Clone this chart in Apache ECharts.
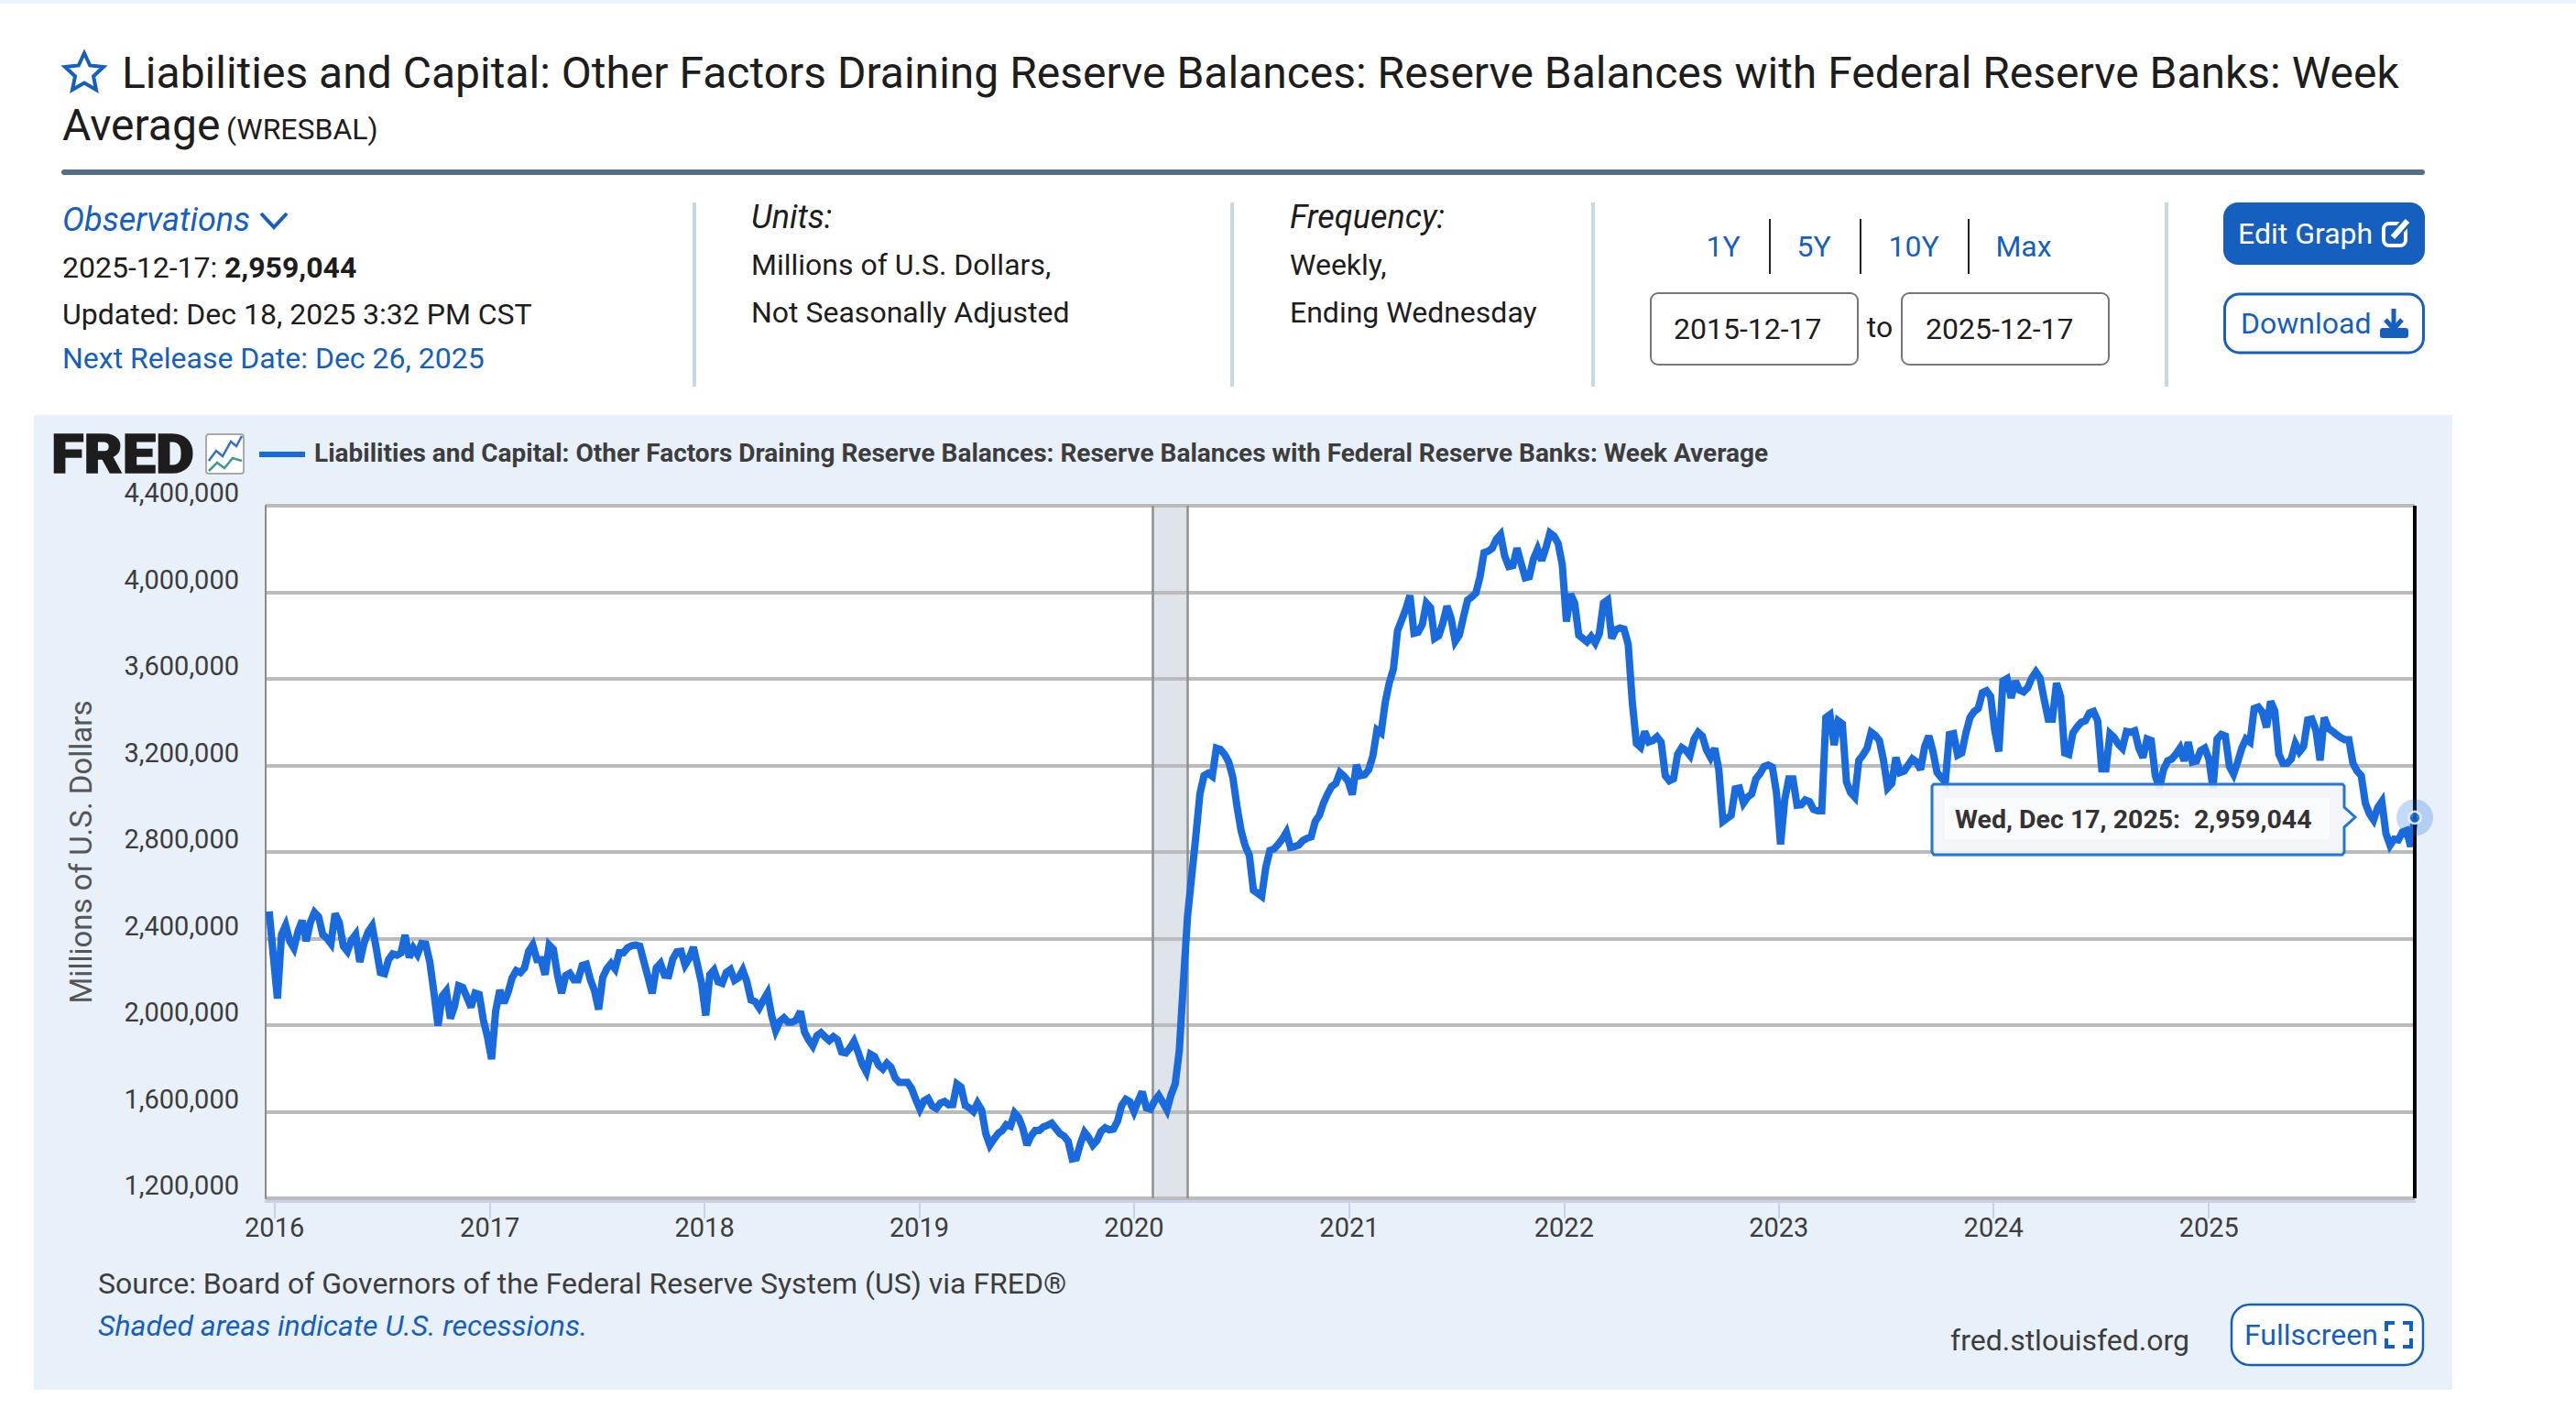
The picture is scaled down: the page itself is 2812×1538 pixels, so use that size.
<!DOCTYPE html>
<html><head><meta charset="utf-8">
<style>html,body{margin:0;padding:0;background:#fff}#c{width:2812px;height:1538px}</style>
<script src="https://cdn.jsdelivr.net/npm/echarts@6/dist/echarts.min.js"></script>
</head><body><div id="c"></div>
<script>
// Weekly reserve balances, thousands of millions of dollars
const weeks2016=[2525,2320,2123,2419,2461,2388,2356,2433,2483,2388,2475,2521,2501,2419,2402,2377,2515,2475,2365,2341,2394,2419,2292,2377,2430,2458,2355,2243,2238,2303,2329,2323,2334,2416,2313,2356,2327,2377,2374,2292,2151,1998,2134,2158,2031,2087,2182,2174,2130,2083,2148,2142,2024,1946];
const weeks2017=[1843,2066,2162,2102,2151,2219,2252,2243,2264,2341,2370,2303,2303,2233,2370,2351,2233,2148,2229,2240,2210,2210,2275,2281,2210,2158,2073,2221,2261,2285,2260,2334,2334,2357,2367,2370,2365,2292,2221,2147,2264,2285,2231,2229,2306,2339,2341,2278,2309,2360,2278,2193];
const weeks2018=[2045,2233,2254,2200,2193,2243,2257,2207,2219,2254,2200,2116,2109,2080,2116,2148,2045,1975,2017,2034,2014,2014,2024,2063,1968,1932,1904,1951,1965,1946,1929,1946,1932,1876,1872,1894,1925,1876,1819,1784,1866,1855,1815,1798,1824,1805,1756,1735,1735,1735,1707,1657];
const weeks2019=[1612,1650,1661,1626,1615,1640,1647,1632,1633,1728,1714,1629,1618,1601,1640,1608,1499,1446,1474,1499,1513,1540,1533,1594,1573,1523,1446,1488,1513,1513,1530,1537,1547,1523,1499,1488,1463,1382,1386,1453,1505,1481,1446,1467,1509,1526,1516,1520,1556,1629,1657,1646];
const weeks2020=[1601,1650,1692,1618,1612,1650,1675,1643,1608,1678,1728,1883,2200,2503,2687,2870,3068,3153,3164,3150,3280,3273,3251,3216,3145,3011,2899,2828,2786,2623,2609,2595,2729,2807,2814,2835,2859,2891,2821,2825,2832,2853,2863,2870,2941,2969,3026,3068,3103,3117,3167,3150];
const weeks2021=[3127,3065,3202,3153,3157,3181,3244,3364,3350,3491,3583,3646,3823,3872,3922,3985,3811,3816,3851,3950,3929,3787,3799,3858,3936,3879,3773,3802,3886,3964,3978,3996,4070,4183,4190,4204,4246,4267,4168,4119,4123,4204,4133,4067,4072,4154,4199,4147,4204,4274,4260,4225];
const weeks2022=[4126,3865,3992,3950,3802,3787,3771,3795,3766,3809,3950,3964,3787,3827,3835,3830,3759,3491,3301,3284,3357,3308,3315,3332,3308,3153,3129,3138,3251,3282,3270,3246,3322,3353,3336,3272,3237,3279,3181,2941,2955,2969,3092,3096,3026,3054,3068,3138,3162,3195,3202,3192];
const weeks2023=[3075,2835,3040,3138,3138,3016,3018,3040,3033,2997,2990,2990,3421,3435,3294,3406,3392,3124,3075,3054,3223,3248,3279,3353,3339,3315,3223,3096,3117,3237,3167,3174,3202,3230,3216,3181,3287,3336,3265,3167,3145,3124,3343,3347,3248,3258,3350,3421,3449,3463,3536,3545];
const weeks2024=[3519,3364,3265,3590,3601,3512,3590,3548,3540,3559,3604,3632,3604,3505,3414,3414,3580,3519,3258,3251,3350,3378,3399,3406,3442,3449,3406,3184,3184,3347,3329,3298,3279,3357,3353,3360,3280,3237,3322,3315,3153,3096,3181,3221,3230,3252,3280,3221,3308,3216,3221,3269];
const weeks2025=[3280,3230,3096,3322,3343,3336,3195,3160,3216,3280,3322,3308,3463,3470,3446,3376,3496,3452,3252,3209,3209,3230,3301,3263,3287,3410,3414,3364,3223,3421,3372,3358,3343,3329,3319,3319,3209,3174,3153,3026,2976,2948,3005,3033,2885,2831,2859,2856,2892,2899,2825,2959.044];
const yearTicks=[2016,2017,2018,2019,2020,2021,2022,2023,2024,2025];
const yMin=1200000, yMax=4400000, yStep=400000;
const rangeStart='2015-12-17', rangeEnd='2025-12-17';
const recession=['2020-02-01','2020-04-01'];
const TITLE='Liabilities and Capital: Other Factors Draining Reserve Balances: Reserve Balances with Federal Reserve Banks: Week';
const SERIES_NAME='Liabilities and Capital: Other Factors Draining Reserve Balances: Reserve Balances with Federal Reserve Banks: Week Average';

const weekly=[].concat(weeks2016,weeks2017,weeks2018,weeks2019,weeks2020,weeks2021,weeks2022,weeks2023,weeks2024,weeks2025);
const startMs=Date.parse(rangeStart), endMs=Date.parse(rangeEnd), WEEK=7*864e5;
const lineData=weekly.map((v,i)=>[endMs-(weekly.length-1-i)*WEEK, Math.round(v*1000)]);
const lastPoint=lineData[lineData.length-1];
const yearMs=yearTicks.map(y=>Date.UTC(y,0,1));
const recMs=recession.map(d=>Date.parse(d));

const BLUE='#155fbe', LINE='#196adc', FONT='Roboto';
function t(x,y,text,o){o=o||{};return {type:'text',z:o.z||10,silent:true,style:{x:x,y:y,text:text,
  font:(o.italic?'italic ':'')+(o.weight||'400')+' '+(o.size||32)+'px '+FONT,fill:o.fill||'#1d1d1d',
  align:o.align||'left',verticalAlign:'middle'}};}
function box(x,y,w,h,o){o=o||{};return {type:'rect',z:o.z||5,silent:true,shape:{x:x,y:y,width:w,height:h,r:o.r||0},
  style:{fill:o.fill||'none',stroke:o.stroke||null,lineWidth:o.lw||0}};}
function pl(points,stroke,lw,z){return {type:'polyline',z:z||10,silent:true,shape:{points:points},style:{stroke:stroke,lineWidth:lw,fill:'none'}};}
function ln(x1,y1,x2,y2,stroke,lw,z){return {type:'line',z:z||6,silent:true,shape:{x1,y1,x2,y2},style:{stroke,lineWidth:lw}};}

const g=[
  box(0,0,2812,4,{fill:'#e8f2fa',z:1}),
  box(37,453,2640,1064,{fill:'#e8f0fa',z:-5}),
  // header
  {type:'polygon',z:10,silent:true,shape:{points:[[92,58],[98.2,71.5],[113,73],[102,83.2],[105,98],[92,90.5],[79,98],[82,83.2],[71,73],[85.8,71.5]]},style:{fill:'none',stroke:BLUE,lineWidth:4}},
  t(133,79,TITLE,{size:48}),
  t(68,136,'Average',{size:48}),
  t(247,141,'(WRESBAL)',{size:32}),
  box(67,185,2580,6,{fill:'#527089',r:3}),
  // observations
  t(68,240,'Observations',{size:36,italic:true,fill:BLUE}),
  pl([[285,233],[299,248],[313,233]],BLUE,4),
  t(68,292,'2025-12-17: ',{size:32}),
  t(245,292,'2,959,044',{size:32,weight:'700'}),
  t(68,343,'Updated: Dec 18, 2025 3:32 PM CST',{size:32}),
  t(68,391,'Next Release Date: Dec 26, 2025',{size:32,fill:BLUE}),
  ln(758,221,758,422,'#c5d9e3',4),ln(1345,221,1345,422,'#c5d9e3',4),ln(1739,221,1739,422,'#c5d9e3',4),ln(2365,221,2365,422,'#c5d9e3',4),
  t(820,237,'Units:',{size:36,italic:true}),
  t(820,289,'Millions of U.S. Dollars,',{size:32}),
  t(820,341,'Not Seasonally Adjusted',{size:32}),
  t(1408,237,'Frequency:',{size:36,italic:true}),
  t(1408,289,'Weekly,',{size:32}),
  t(1408,341,'Ending Wednesday',{size:32}),
  t(1881,269,'1Y',{size:32,fill:BLUE,align:'center'}),
  t(1980,269,'5Y',{size:32,fill:BLUE,align:'center'}),
  t(2089,269,'10Y',{size:32,fill:BLUE,align:'center'}),
  t(2209,269,'Max',{size:32,fill:BLUE,align:'center'}),
  ln(1932,239,1932,299,'#222',2),ln(2031,239,2031,299,'#222',2),ln(2149,239,2149,299,'#222',2),
  box(1802,320,226,78,{fill:'#fff',stroke:'#777',lw:2,r:8}),
  box(2076,320,226,78,{fill:'#fff',stroke:'#777',lw:2,r:8}),
  t(1827,359,'2015-12-17',{size:32}),
  t(2052,357,'to',{size:32,align:'center'}),
  t(2102,359,'2025-12-17',{size:32}),
  box(2427,221,220,68,{fill:BLUE,r:16}),
  t(2443,255,'Edit Graph',{size:32,fill:'#fff'}),
  box(2602,244,24,24,{stroke:'#fff',lw:4,r:6,z:11}),
  ln(2612,259,2628,241,BLUE,11,12),ln(2612,259,2628,241,'#fff',6,13),
  box(2428.5,321,217,64,{fill:'#fff',stroke:BLUE,lw:3,r:16}),
  t(2446,353,'Download',{size:32,fill:BLUE}),
  ln(2613,337,2613,358,BLUE,5,11),pl([[2604,349],[2613,359],[2622,349]],BLUE,5,11),
  box(2598,358,31,11,{fill:BLUE,r:3,z:11}),
  // chart panel furniture
  {type:'text',z:10,silent:true,scaleX:1.08,originX:56,originY:495,style:{x:56,y:495.5,text:'FRED',font:'900 60px '+FONT,fill:'#1d1d1d',stroke:'#1d1d1d',lineWidth:1.5,verticalAlign:'middle',align:'left'}},
  box(225,474,41,43,{fill:'#fff',stroke:'#a9a9a9',lw:2,r:3}),
  pl([[228,503],[236,492],[243,498],[252,482],[258,487],[264,476]],'#2f6fd6',2.5,11),
  pl([[228,514],[237,505],[245,511],[254,500],[264,503]],'#3d9a8b',2.5,11),
  box(283,493,50,6,{fill:LINE}),
  t(343,494,SERIES_NAME,{size:28,weight:'700',fill:'#3d3d3d'}),
  t(107,1401,'Source: Board of Governors of the Federal Reserve System (US) via FRED\u00AE',{size:32,fill:'#3d3d3d'}),
  t(107,1447,'Shaded areas indicate U.S. recessions.',{size:32,italic:true,fill:BLUE}),
  t(2129,1463,'fred.stlouisfed.org',{size:32,fill:'#3d3d3d'}),
  box(2436,1424,209,66,{fill:'#fff',stroke:BLUE,lw:2.5,r:20}),
  t(2450,1457,'Fullscreen',{size:32,fill:BLUE}),
  pl([[2605,1453],[2605,1444],[2614,1444]],BLUE,4,11),pl([[2623,1444],[2632,1444],[2632,1453]],BLUE,4,11),
  pl([[2605,1461],[2605,1470],[2614,1470]],BLUE,4,11),pl([[2623,1470],[2632,1470],[2632,1461]],BLUE,4,11),
  // tooltip
  {type:'polygon',z:20,silent:true,shape:{points:[[2111,858],[2557,858],[2559,860],[2559,882],[2571,893],[2559,905],[2559,932],[2557,935],[2111,935],[2109,932],[2109,860]]},style:{fill:'rgba(180,208,245,0.5)'}},
  {type:'polygon',z:21,silent:true,shape:{points:[[2111,856],[2557,856],[2559,858],[2559,881],[2571,892],[2559,903],[2559,930],[2557,933],[2111,933],[2109,930],[2109,858]]},style:{fill:'rgba(247,247,247,0.86)',stroke:'#2176dc',lineWidth:3}},
  box(2123,871,420,45,{fill:'rgba(255,255,255,0.55)',z:22}),
  t(2134,894,'Wed, Dec 17, 2025:',{size:28.5,weight:'700',fill:'#333',z:23}),
  t(2395,894,'2,959,044',{size:28.5,weight:'700',fill:'#333',z:23})
];

const chart=echarts.init(document.getElementById('c'),null,{renderer:'svg',width:2812,height:1538});
chart.setOption({
  animation:false,backgroundColor:'#fff',
  grid:{left:290,right:176,top:552,bottom:230,show:true,backgroundColor:'#fff',borderWidth:0},
  xAxis:{type:'value',min:startMs,max:endMs,offset:3,z:2,
    axisLine:{show:true,onZero:false,lineStyle:{color:'#c5d2e8',width:3}},
    axisTick:{show:true,length:19,lineStyle:{color:'#c5d2e8',width:2},customValues:yearMs},
    axisLabel:{customValues:yearMs,margin:14,fontFamily:FONT,fontSize:29,color:'#3d3d3d',
      formatter:v=>String(new Date(v).getUTCFullYear())},
    splitLine:{show:false}},
  yAxis:{type:'value',min:yMin,max:yMax,interval:yStep,z:2,
    name:'Millions of U.S. Dollars',nameLocation:'middle',nameGap:185,nameRotate:90,
    nameTextStyle:{fontFamily:FONT,fontSize:33,color:'#555'},
    axisLine:{show:true,onZero:false,lineStyle:{color:'#8a8a8a',width:2}},axisTick:{show:false},
    axisLabel:{margin:29,fontFamily:FONT,fontSize:29,color:'#3d3d3d',verticalAlign:'bottom',lineHeight:24,padding:[0,0,2,0],
      formatter:v=>v.toLocaleString('en-US')},
    splitLine:{show:true,lineStyle:{color:'#bbbbbb',width:4}}},
  series:[
    {type:'line',name:'Recession',data:[],z:1,silent:true,
      markArea:{silent:true,z:1,itemStyle:{color:'#dfe3ea'},data:[[{xAxis:recMs[0]},{xAxis:recMs[1]}]]},
      markLine:{silent:true,z:2,symbol:'none',label:{show:false},lineStyle:{color:'#8f8f8f',width:2.5,type:'solid'},data:[{xAxis:recMs[0]},{xAxis:recMs[1]}]}},
    {type:'line',name:SERIES_NAME,data:lineData,z:3,showSymbol:false,smooth:false,silent:true,
      lineStyle:{color:LINE,width:8,join:'miter',miterLimit:3,cap:'butt'},
      markLine:{silent:true,z:4,symbol:'none',label:{show:false},lineStyle:{color:'#000',width:4,type:'solid'},data:[{xAxis:endMs}]}},
    {type:'scatter',data:[lastPoint],z:6,clip:false,silent:true,symbolSize:40,itemStyle:{color:'rgba(25,106,220,0.32)'}},
    {type:'scatter',data:[lastPoint],z:7,clip:false,silent:true,symbolSize:13,itemStyle:{color:LINE,borderColor:'#fff',borderWidth:2.5}}
  ],
  graphic:{elements:g}
});
</script></body></html>
